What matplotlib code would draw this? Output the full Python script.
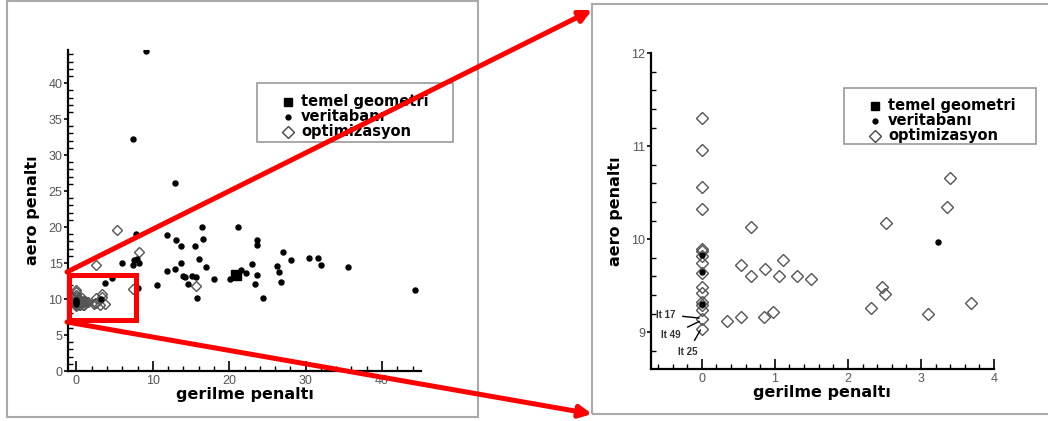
import matplotlib
matplotlib.use("Agg")
import matplotlib.pyplot as plt
from matplotlib.lines import Line2D
from matplotlib.patches import Rectangle, FancyArrowPatch
from matplotlib.ticker import MultipleLocator

# --- datos ---
# temel geometri
base_x = [20.9]
base_y = [13.3]

# veritabani
db_x = [9.16, 7.41, 12.87, 7.85, 11.9, 16.5, 21.2, 13.1, 16.6, 23.7, 13.65, 15.5, 23.7,
        27.0, 16.1, 28.1, 30.5, 31.6, 32.0, 35.5, 23.0, 26.3, 13.7, 6.0, 7.4, 7.6, 7.9,
        8.2, 16.9, 11.9, 12.9, 21.6, 26.5, 14.0, 15.1, 15.7, 14.2, 22.2, 23.6, 18.0,
        20.1, 4.6, 3.8, 10.6, 14.6, 23.4, 26.8, 15.8, 24.4, 44.3, 8.0, 3.24, 0.0, 0.0, 0.0]
db_y = [44.5, 32.2, 26.1, 19.0, 18.9, 20.0, 20.0, 18.2, 18.3, 18.2, 17.3, 17.4, 17.5,
        16.6, 15.5, 15.4, 15.7, 15.7, 14.7, 14.5, 14.9, 14.6, 15.0, 15.0, 14.7, 15.4, 15.5,
        15.0, 14.5, 13.9, 14.2, 14.0, 13.7, 13.2, 13.2, 13.1, 13.1, 13.6, 13.3, 12.8,
        12.8, 12.9, 12.2, 12.0, 12.1, 12.1, 12.4, 10.2, 10.2, 11.3, 11.6, 9.97, 9.83, 9.30, 9.65]

# optimizasyon
opt_x = [0, 0, 0, 0, 0, 0, 0, 0, 0, 0, 0, 0, 0, 0, 0, 0,
         0.34, 0.53, 0.54, 0.68, 0.67, 0.85, 0.87, 0.98, 1.05, 1.11, 1.30, 1.49,
         2.32, 2.46, 2.51, 2.52, 3.10, 3.36, 3.40, 3.68,
         2.5, 5.3, 8.2, 7.4, 15.6]
opt_y = [11.30, 10.96, 10.56, 10.33, 9.90, 9.87, 9.82, 9.74, 9.64, 9.49, 9.42, 9.33,
         9.29, 9.24, 9.14, 9.04,
         9.125, 9.16, 9.72, 9.60, 10.13, 9.16, 9.68, 9.22, 9.60, 9.78, 9.61, 9.57,
         9.26, 9.49, 9.41, 10.18, 9.20, 10.35, 10.66, 9.31,
         14.7, 19.6, 16.5, 11.4, 11.8]

# etiquetas de iteraciones (panel derecho)
it_labels = ["It 17", "It 49", "It 25"]
it_x = [0.0, 0.0, 0.0]
it_y = [9.15, 9.13, 9.05]
it_text_x = [-0.49, -0.42, -0.19]
it_text_y = [9.19, 8.97, 8.79]

W, H = 1048, 421


def px(x, y):
    return (x / W, 1 - y / H)


def ax_rect(x0, y0, x1, y1):
    return [x0 / W, 1 - y1 / H, (x1 - x0) / W, (y1 - y0) / H]


TICK_FONT = "Liberation Sans"
LABEL_FONT = "DejaVu Sans"


def style_axes(ax, xmaj, xmin, ymaj, ymin):
    for s in ["top", "right"]:
        ax.spines[s].set_visible(False)
    for s in ["left", "bottom"]:
        ax.spines[s].set_linewidth(1.6)
    ax.xaxis.set_major_locator(MultipleLocator(xmaj))
    ax.xaxis.set_minor_locator(MultipleLocator(xmin))
    ax.yaxis.set_major_locator(MultipleLocator(ymaj))
    ax.yaxis.set_minor_locator(MultipleLocator(ymin))
    ax.tick_params(axis="x", which="major", direction="in", length=7, width=1.2,
                   pad=3, labelsize=9, labelcolor="#555555")
    ax.tick_params(axis="x", which="minor", direction="in", length=3.5, width=1)
    ax.tick_params(axis="y", which="major", direction="out", length=3, width=1.2,
                   pad=1, labelsize=9, labelcolor="#555555")
    ax.tick_params(axis="y", which="minor", direction="in", length=3.5, width=1)
    for lab in ax.get_xticklabels() + ax.get_yticklabels():
        lab.set_fontfamily(TICK_FONT)
    ax.set_xlabel("gerilme penaltı", fontsize=11.5, fontweight="bold",
                  family=LABEL_FONT, labelpad=0)
    ax.set_ylabel("aero penaltı", fontsize=11.5, fontweight="bold",
                  family=LABEL_FONT, labelpad=6)


def add_legend(ax, x, y, box):
    handles = [
        Line2D([], [], ls="none", marker="s", ms=6, mfc="black", mec="black"),
        Line2D([], [], ls="none", marker="o", ms=3.5, mfc="black", mec="black"),
        Line2D([], [], ls="none", marker="D", ms=6, mfc="white", mec="#444444", mew=1),
    ]
    labels = ["temel geometri", "veritabanı", "optimizasyon"]
    fig.add_artist(Rectangle(px(box[0], box[3]), (box[2] - box[0]) / W,
                             (box[3] - box[1]) / H, transform=fig.transFigure,
                             fill=False, ec="#999999", lw=1.2))
    ax.legend(handles, labels, loc="upper left", bbox_to_anchor=px(x, y),
              bbox_transform=fig.transFigure, frameon=False, borderpad=0,
              handlelength=0.9, handleheight=0.5, handletextpad=0.45,
              labelspacing=0.0,
              prop={"family": LABEL_FONT, "weight": "bold", "size": 10.5})


fig = plt.figure(figsize=(W / 100, H / 100), dpi=100)

# marcos grises
for (x0, y0, x1, y1) in [(7, 1, 478, 417), (592, 4, 1050, 414)]:
    fig.add_artist(Rectangle(px(x0, y1), (x1 - x0) / W, (y1 - y0) / H,
                             transform=fig.transFigure, fill=False,
                             ec="#aaaaaa", lw=1.5))

# panel izquierdo
ax1 = fig.add_axes(ax_rect(68, 50, 421, 371))
ax1.plot(db_x, db_y, "o", ms=3.6, color="black", zorder=3)
ax1.plot(opt_x, opt_y, "D", ms=5.5, mfc="none", mec="#555555", mew=1, zorder=2)
ax1.plot(base_x, base_y, "s", ms=6.5, color="black", zorder=4)
ax1.set_xlim(-1.1, 45.1)
ax1.set_ylim(0, 44.6)
style_axes(ax1, 10, 2, 5, 1)
add_legend(ax1, 274, 87, (257, 83, 453, 142))

# panel derecho
ax2 = fig.add_axes(ax_rect(650.7, 53.3, 994, 369))
ax2.plot(db_x, db_y, "o", ms=3.6, color="black", zorder=3)
ax2.plot(opt_x, opt_y, "D", ms=6, mfc="none", mec="#555555", mew=1, zorder=2)
ax2.plot(base_x, base_y, "s", ms=6.5, color="black", zorder=4)
ax2.set_xlim(-0.70, 4.0)
ax2.set_ylim(8.605, 12.0)
style_axes(ax2, 1, 0.2, 1, 0.2)
add_legend(ax2, 861, 91, (844, 88, 1036, 144))

for lab, xx, yy, tx, ty in zip(it_labels, it_x, it_y, it_text_x, it_text_y):
    ax2.annotate(lab, xy=(xx, yy), xytext=(tx, ty), fontsize=7, fontweight="bold",
                 family=TICK_FONT, color="#333333", ha="center", va="center",
                 arrowprops=dict(arrowstyle="-", color="black", lw=1,
                                 shrinkA=3, shrinkB=2))

# zoom en rojo
fig.add_artist(Rectangle(px(69, 320), 67 / W, 45.5 / H, transform=fig.transFigure,
                         fill=False, ec="red", lw=3.6, zorder=10))
for start, end in [((67, 272), (592, 10)), ((67, 322), (592, 414))]:
    fig.add_artist(FancyArrowPatch(px(*start), px(*end), transform=fig.transFigure,
                                   arrowstyle="-|>", mutation_scale=18, lw=3.6,
                                   color="red", shrinkA=0, shrinkB=0, zorder=10))

fig.savefig("out.png", dpi=100, facecolor="white")
